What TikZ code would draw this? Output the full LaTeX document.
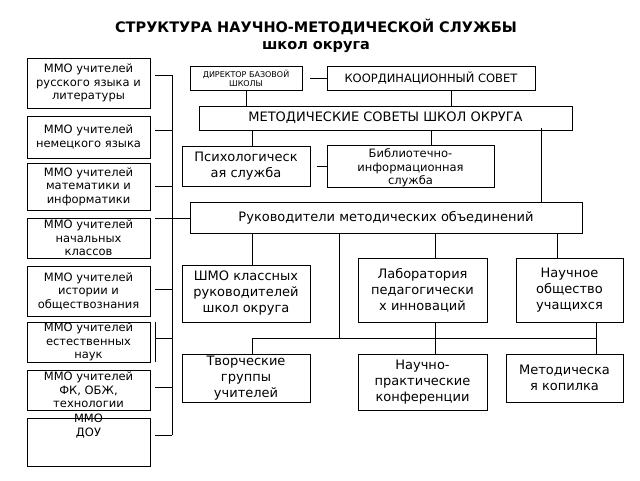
\documentclass[tikz,border=0pt]{standalone}
\usepackage{fontspec}
\setmainfont{DejaVu Sans}
\begin{document}
\begin{tikzpicture}[x=1pt,y=-1pt,
 bx/.style={draw,line width=0.8pt,inner sep=1pt,align=center,font=\fontsize{11.5}{13.5}\selectfont},
 big/.style={font=\fontsize{13}{16}\selectfont},
 ln/.style={line width=0.8pt}]
\useasboundingbox (0,0) rectangle (640,480);
\def\B#1#2#3#4#5#6#7{\node[bx,#7,minimum width=#4-#2,minimum height=#5-#3] (#1) at ({(#2+#4)/2},{(#3+#5)/2}) {#6};}
\node[font=\bfseries\fontsize{14.5}{17}\selectfont,align=center] (t) at (316,36) {СТРУКТУРА НАУЧНО-МЕТОДИЧЕСКОЙ СЛУЖБЫ\\школ округа};
\B{l1}{27}{58}{150}{108}{ММО учителей\\русского языка и\\литературы}{}
\B{l2}{27}{116}{150}{158}{ММО учителей\\немецкого языка}{}
\B{l3}{27}{163}{150}{210}{ММО учителей\\математики и\\информатики}{}
\B{l4}{27}{218}{150}{258}{ММО учителей\\начальных\\классов}{}
\B{l5}{27}{266}{150}{316}{ММО учителей\\истории и\\обществознания}{}
\B{l6}{27}{322}{150}{362}{ММО учителей\\естественных\\наук}{}
\B{l7}{27}{370}{150}{410}{ММО учителей\\ФК, ОБЖ,\\технологии}{}
\node[bx,minimum width=123,minimum height=48,anchor=north] (l8) at (88.5,418) {\\[-18pt]ММО\\ДОУ\\[12pt]};
\node[bx,minimum width=112,minimum height=24,font=\fontsize{8}{9}\selectfont] (dir) at (246,78) {ДИРЕКТОР БАЗОВОЙ\\ШКОЛЫ};
\node[bx,minimum width=208,minimum height=24] (ks) at (431,78) {КООРДИНАЦИОННЫЙ СОВЕТ};
\node[bx,minimum width=373,minimum height=24,big] (ms) at (385.5,118) {МЕТОДИЧЕСКИЕ СОВЕТЫ ШКОЛ ОКРУГА};
\B{ps}{182}{146}{310}{186}{Психологическ\\ая служба}{big}
\B{bib}{327}{146}{494}{186}{\\[-2pt]Библиотечно-\\информационная\\служба\\[-12pt]}{}
\node[bx,minimum width=392,minimum height=31,big] (ruk) at (386,218) {Руководители методических объединений};
\B{shmo}{182}{265}{310}{322}{ШМО классных\\руководителей\\школ округа}{big}
\B{lab}{358}{258}{487}{322}{Лаборатория\\педагогически\\х инноваций}{big}
\B{no}{516}{258}{623}{322}{Научное\\общество\\учащихся}{big}
\B{tg}{182}{354}{310}{402}{\\[-6pt]Творческие\\группы\\учителей}{big}
\B{np}{358}{354}{487}{410}{Научно-\\практические\\конференции}{big}
\B{mk}{506}{354}{623}{402}{Методическа\\я копилка}{big}
% left bus
\coordinate (bt) at (172,75); \coordinate (bb) at (172,435);
\draw[ln] (bt) -- (bb);
\foreach \n/\y in {l1/75,l2/130,l3/186,l5/289,l6/338,l7/387,l8/435}
  \draw[ln] (\n.east|-0,\y) ++(5,0) -- (172,\y);
\draw[ln] (155,218) -- (ruk.west);
\draw[ln] (155,322) -- (155,362);
% top
\draw[ln] ([xshift=8pt]dir.east) -- (ks.west);
\draw[ln] (dir.south) -- (dir.south|-ms.north);
\draw[ln] (ks.south-|451,0) -- (451,106);
\draw[ln] (252,130) -- (ps.north-|252,0);
\draw[ln] (431,130) -- (bib.north-|431,0);
\draw[ln] ([xshift=-10pt]bib.west) -- (bib.west);
\draw[ln] (541,128) -- (ruk.north-|541,0);
% middle
\draw[ln] (252,234) -- (shmo.north-|252,0);
\draw[ln] (339,234) -- (339,338) -- (252,338) -- (tg.north-|252,0);
\draw[ln] (435,234) -- (lab.north-|435,0);
\draw[ln] (557,234) -- (no.north-|557,0);
\draw[ln] (339,338) -- (596,338);
\draw[ln] (lab.south-|435,0) -- (np.north-|435,0);
\draw[ln] (no.south-|596,0) -- (mk.north-|596,0);
\end{tikzpicture}
\end{document}
